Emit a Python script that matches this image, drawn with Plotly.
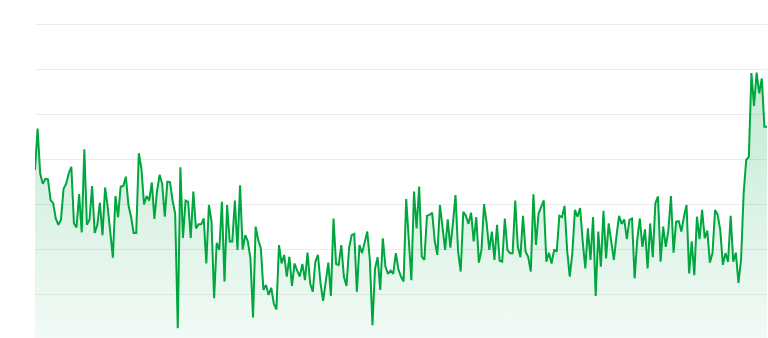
import plotly.graph_objects as go

values_a = [37.8, 47.0, 37.0, 34.7, 35.8, 35.7, 31.1, 30.4, 27.0, 25.6, 26.7, 33.6, 34.7, 37.0, 38.5,
            25.9, 25.0, 32.4, 23.9, 42.4, 25.6, 26.7, 34.2, 23.8, 25.6, 30.5, 23.3, 33.9, 29.6, 24.4,
            18.3, 32.0, 27.3, 34.1, 34.2, 36.3]
values_b = [30.0, 27.4, 23.8, 23.8, 41.5, 38.1, 30.1, 32.0, 31.0, 35.0, 26.9, 33.0, 36.7, 34.7, 27.4,
            35.2, 35.1, 31.0, 28.1, 2.6, 38.4, 22.7, 31.0, 30.7, 22.7, 33.0, 24.8, 25.7, 25.7, 27.0,
            17.0, 30.0, 26.3, 9.3]
values_c = [21.6, 20.0, 30.7, 13.0, 30.0, 21.9, 21.9, 31.0, 20.0, 34.4, 20.1, 23.3, 21.9, 18.1, 5.0,
            25.2, 22.2, 20.4, 11.1, 12.2, 10.0, 11.6, 8.1, 6.8, 21.1, 17.0, 18.9, 14.1, 18.5, 12.0,
            17.0, 15.4, 14.1, 16.9, 13.3]
values_d = [19.4, 12.6, 10.7, 17.4, 18.9, 12.6, 8.7, 12.7, 17.2, 9.8, 27.0, 16.9, 16.7, 21.1, 14.1,
            12.0, 20.4, 23.3, 23.6, 10.7, 21.1, 19.3, 21.5, 24.1, 17.8, 3.3, 15.9, 18.4, 11.1, 22.6,
            16.3, 14.7, 15.4, 14.7, 19.3]
values_e = [15.7, 14.1, 13.0, 31.3, 22.2, 13.3, 33.0, 24.8, 34.1, 18.5, 17.8, 27.6, 27.8, 28.3, 22.0,
            18.9, 30.0, 25.2, 20.0, 26.8, 20.5, 25.9, 32.2, 19.6, 15.2, 28.5, 27.6, 25.8, 28.3, 21.9,
            27.3, 17.2, 20.0, 30.2]
values_f = [25.9, 20.0, 24.1, 17.8, 25.6, 17.6, 17.4, 27.0, 20.0, 19.3, 19.3, 31.0, 20.7, 18.4, 27.6,
            19.6, 18.5, 15.2, 32.4, 21.1, 28.1, 29.6, 31.0, 17.4, 19.4, 17.0, 20.1, 19.6, 27.6, 27.3,
            29.8, 20.0, 14.1, 19.3, 28.9]
values_g = [27.4, 29.3, 21.9, 15.9, 24.8, 17.8, 27.3, 9.8, 24.1, 16.3, 28.7, 18.1, 25.9, 21.5, 17.8,
            23.0, 27.6, 25.8, 26.8, 22.4, 26.7, 27.0, 13.7, 22.2, 27.0, 20.7, 24.6, 15.9, 25.9, 18.4,
            30.4, 31.9, 17.4, 25.2, 20.7]
values_h = [24.4, 32.0, 19.4, 26.3, 26.4, 24.1, 27.4, 30.0, 14.8, 21.9, 14.4, 27.4, 22.4, 28.9, 22.6,
            24.3, 17.2, 19.3, 28.9, 27.8, 24.4, 16.7, 19.3, 17.4, 27.6, 17.4, 19.4, 12.7, 17.8, 32.6,
            40.0, 40.7, 59.3, 52.0, 59.4, 54.8, 58.1, 47.4, 47.4]

values = values_a + values_b + values_c + values_d + values_e + values_f + values_g + values_h
index = list(range(len(values)))

fig = go.Figure()
fig.add_trace(go.Scatter(
    x=index, y=values, mode="lines",
    line=dict(color="rgb(0,166,62)", width=2),
    fill="tozeroy",
    fillgradient=dict(type="vertical", start=0, stop=60,
                      colorscale=[[0, "rgba(0,166,70,0.05)"], [1, "rgba(0,166,70,0.24)"]]),
    hoverinfo="skip",
))
fig.update_layout(
    width=768, height=338,
    margin=dict(l=35, r=1, t=20, b=0),
    paper_bgcolor="white", plot_bgcolor="white",
    showlegend=False,
    xaxis=dict(range=[0, len(values) - 1], showgrid=False, zeroline=False,
               showticklabels=False, showline=False, ticks=""),
    yaxis=dict(range=[0.44, 71.11], dtick=10, tick0=0, showgrid=True, gridcolor="#ececec",
               gridwidth=1, zeroline=False, showticklabels=False, showline=False, ticks=""),
)
fig.write_html("out.html")
